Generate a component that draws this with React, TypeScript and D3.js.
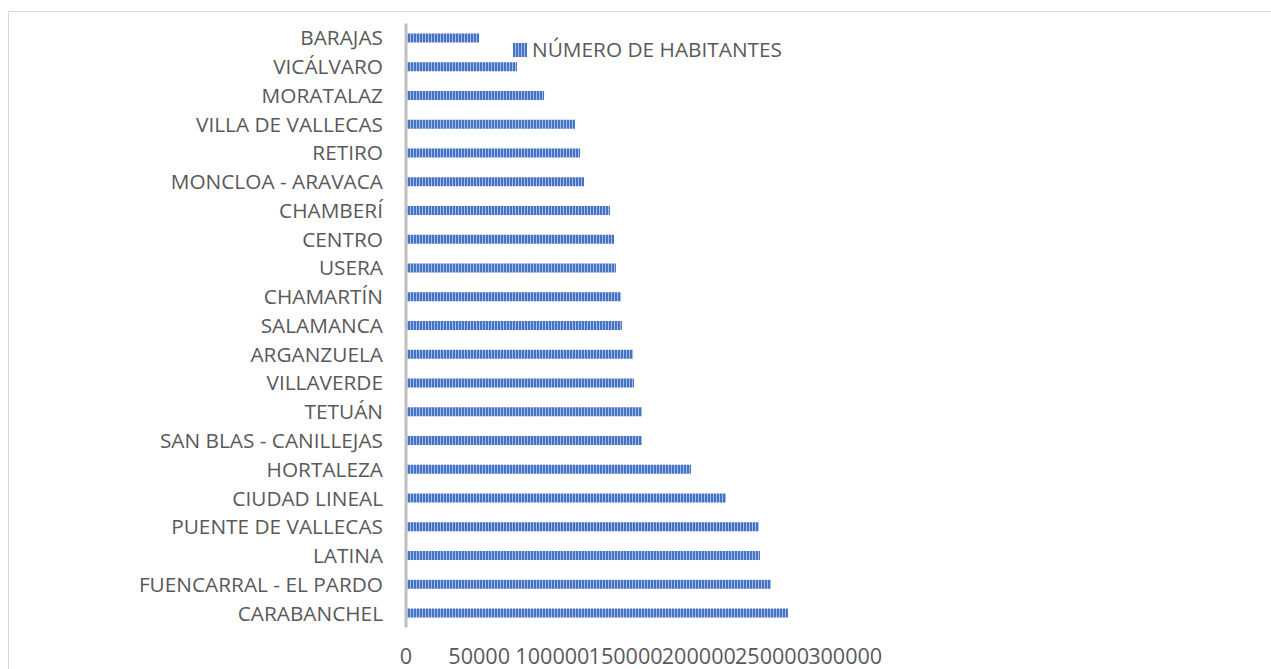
import React from "react";
import * as d3 from "d3";

const districts = [
  "BARAJAS", "VICÁLVARO", "MORATALAZ", "VILLA DE VALLECAS", "RETIRO",
  "MONCLOA - ARAVACA", "CHAMBERÍ", "CENTRO", "USERA", "CHAMARTÍN",
  "SALAMANCA", "ARGANZUELA", "VILLAVERDE", "TETUÁN", "SAN BLAS - CANILLEJAS",
  "HORTALEZA", "CIUDAD LINEAL", "PUENTE DE VALLECAS", "LATINA",
  "FUENCARRAL - EL PARDO", "CARABANCHEL",
];
const habitantes = [
  49900, 75800, 94300, 115400, 118900,
  121600, 139300, 142100, 143400, 146900,
  147500, 155100, 155700, 161200, 161200,
  194700, 218600, 241100, 241800,
  249300, 260900,
];
const xTicks = [0, 50000, 100000, 150000, 200000, 250000, 300000];
const seriesName = "NÚMERO DE HABITANTES";

const W = 1271;
const H = 669;
const FONT = "'Open Sans', sans-serif";
const TXT = "#595959";

export default function App() {
  const x = d3.scaleLinear().domain([0, 300000]).range([406, 845.2]);
  const y = d3
    .scaleBand<string>()
    .domain(districts)
    .range([23.6, 627.4])
    .paddingInner(0.687)
    .paddingOuter(0.687 / 2);

  return (
    <svg
      width={W}
      height={H}
      style={{ position: "absolute", left: 0, top: 0, display: "block" }}
    >
      <defs>
        <pattern id="vstripe" width={3} height={10} patternUnits="userSpaceOnUse">
          <rect x={0} y={0} width={3} height={10} fill="#a8bde6" />
          <rect x={0} y={0} width={2} height={10} fill="#4472c4" />
        </pattern>
      </defs>
      <rect x={0} y={0} width={W} height={H} fill="#ffffff" />
      <rect
        x={8.5}
        y={11.5}
        width={1400}
        height={800}
        fill="none"
        stroke="#d9d9d9"
        strokeWidth={1}
      />
      {districts.map((d, i) => (
        <rect
          key={d}
          x={x(0) + 1}
          y={y(d)}
          width={x(habitantes[i]) - x(0) - 1}
          height={y.bandwidth()}
          fill="url(#vstripe)"
        />
      ))}
      <line
        x1={x(0)}
        x2={x(0)}
        y1={23.6}
        y2={627.4}
        stroke="#bfbfbf"
        strokeWidth={3}
      />
      {districts.map((d) => (
        <text
          key={"l" + d}
          x={383}
          y={(y(d) as number) + y.bandwidth() / 2}
          dy="0.36em"
          textAnchor="end"
          fontFamily={FONT}
          fontSize={20.8}
          fill={TXT}
        >
          {d}
        </text>
      ))}
      {xTicks.map((t) => (
        <text
          key={"t" + t}
          x={x(t)}
          y={664}
          textAnchor="middle"
          fontFamily={FONT}
          fontSize={21.6}
          fill={TXT}
        >
          {t}
        </text>
      ))}
      <rect x={513} y={43} width={14} height={14} fill="url(#vstripe)" />
      <text x={532} y={57} fontFamily={FONT} fontSize={20.8} fill={TXT}>
        {seriesName}
      </text>
    </svg>
  );
}
